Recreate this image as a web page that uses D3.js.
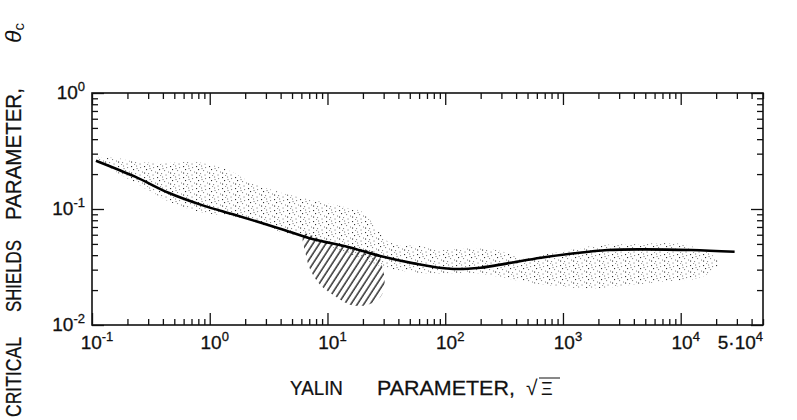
<!DOCTYPE html>
<html>
<head>
<meta charset="utf-8">
<script src="https://cdn.jsdelivr.net/npm/d3@7"></script>
<style>
  html, body { margin: 0; padding: 0; background: #fff; }
  svg { display: block; }
  text { font-family: "Liberation Sans", Arial, sans-serif; fill: #111; }
</style>
</head>
<body>
<svg id="chart" width="797" height="420"></svg>
<script>
// Shields curve, critical Shields parameter vs Yalin parameter
const curveX = [0.108, 0.232, 0.446, 0.86, 1.65, 3.9, 7.6, 14.7, 28, 54, 110, 200, 338, 650, 1250, 2400, 4600, 12300, 28700];
const curveY = [0.261, 0.19, 0.138, 0.108, 0.0888, 0.068, 0.0548, 0.0473, 0.0393, 0.034, 0.0305, 0.0312, 0.034, 0.038, 0.0415, 0.0443, 0.0449, 0.0443, 0.0428];

// stippled data band (outline, clockwise)
const bandX = [0.1125, 0.157, 0.246, 0.443, 0.754, 1.355, 2.30, 3.83, 6.76, 11.25, 14.8, 19.9, 26.7, 34.4, 61.8, 91.6, 165, 297, 440, 716, 1290, 2100, 4610, 10100, 14900, 20000, 20900,
               14900, 6830, 3120, 2100, 1060, 534, 297, 165, 91.6, 50.8, 28.2, 15.7, 8.71, 3.98, 1.82, 0.830, 0.461, 0.344, 0.211, 0.142];
const bandY = [0.275, 0.275, 0.254, 0.249, 0.254, 0.221, 0.168, 0.140, 0.122, 0.110, 0.102, 0.094, 0.066, 0.051, 0.048, 0.0443, 0.0461, 0.0435, 0.0378, 0.0409, 0.0452, 0.0489, 0.0499, 0.0499, 0.0443, 0.0378, 0.0329,
               0.0259, 0.0235, 0.0217, 0.0208, 0.0213, 0.0230, 0.0259, 0.0281, 0.0275, 0.0286, 0.0323, 0.0409, 0.0509, 0.0633, 0.0836, 0.0942, 0.115, 0.135, 0.178, 0.226];

// hatched region below the curve
const hatchX = [6.25, 6.5, 7.16, 8.7, 11.2, 15.7, 21.9, 28.2, 30.6, 28.8, 26.7, 15.7, 9.6];
const hatchY = [0.0608, 0.0418, 0.0298, 0.0221, 0.0181, 0.0149, 0.0149, 0.0174, 0.0235, 0.0336, 0.041, 0.047, 0.053];

const xTickValues = [0.1, 1, 10, 100, 1000, 10000, 50000];
const xTickLabels = [['10', '-1'], ['10', '0'], ['10', '1'], ['10', '2'], ['10', '3'], ['10', '4'], ['5·10', '4']];
const yTickValues = [1, 0.1, 0.01];
const yTickLabels = [['10', '0'], ['10', '-1'], ['10', '-2']];

const svg = d3.select('#chart');
const M = { left: 92, right: 763, top: 93, bottom: 325 };

const x = d3.scaleLog().domain([0.1, 5e4]).range([M.left, M.right]);
const y = d3.scaleLog().domain([0.01, 1]).range([M.bottom, M.top]);

const isMajor = v => Math.abs(Math.log10(v) - Math.round(Math.log10(v))) < 1e-6;

// patterns
const defs = svg.append('defs');
const dots = defs.append('pattern')
  .attr('id', 'stipple').attr('patternUnits', 'userSpaceOnUse')
  .attr('width', 13).attr('height', 11);
[[1, 1], [6, 0.5], [10, 2], [3, 4], [8, 5], [12, 6.5], [1, 7.5], [5, 8], [9.5, 9.5], [4, 10.5], [6.5, 3]].forEach(([px, py], i) => {
  dots.append('rect').attr('x', px).attr('y', py).attr('width', 1.1).attr('height', 1.1)
    .attr('fill', i % 3 === 0 ? '#333' : '#8a8a8a');
});
const hatch = defs.append('pattern')
  .attr('id', 'hatch').attr('patternUnits', 'userSpaceOnUse')
  .attr('width', 5.4).attr('height', 10)
  .attr('patternTransform', 'rotate(33)');
hatch.append('line').attr('x1', 1).attr('y1', 0).attr('x2', 1).attr('y2', 10)
  .attr('stroke', '#111').attr('stroke-width', 1.3);

const blob = d3.line()
  .x(d => x(d[0])).y(d => y(d[1]))
  .curve(d3.curveCatmullRomClosed.alpha(0.5));

svg.append('path')
  .attr('d', blob(bandX.map((v, i) => [v, bandY[i]])))
  .attr('fill', 'url(#stipple)');

svg.append('path')
  .attr('d', blob(hatchX.map((v, i) => [v, hatchY[i]])))
  .attr('fill', 'url(#hatch)');

// Shields curve
const line = d3.line()
  .x(d => x(d[0])).y(d => y(d[1]))
  .curve(d3.curveCatmullRom.alpha(0.5));
svg.append('path')
  .attr('d', line(curveX.map((v, i) => [v, curveY[i]])))
  .attr('fill', 'none').attr('stroke', '#000').attr('stroke-width', 2.6)
  .attr('stroke-linejoin', 'round');

// axes: inward ticks on all four sides
const xt = x.ticks().filter(v => v <= 5e4);
const yt = y.ticks();
const tickLen = v => isMajor(v) ? 12 : 6;

function styleAxis(g) {
  g.select('.domain').remove();
  g.selectAll('.tick text').remove();
  g.selectAll('.tick line').attr('stroke', '#111').attr('stroke-width', 1.3);
}

svg.append('g').attr('transform', `translate(0,${M.bottom})`)
  .call(d3.axisBottom(x).tickValues(xt).tickSize(0)).call(styleAxis)
  .selectAll('.tick line').attr('y2', d => -tickLen(d));
svg.append('g').attr('transform', `translate(0,${M.top})`)
  .call(d3.axisTop(x).tickValues(xt).tickSize(0)).call(styleAxis)
  .selectAll('.tick line').attr('y2', d => tickLen(d));
svg.append('g').attr('transform', `translate(${M.left},0)`)
  .call(d3.axisLeft(y).tickValues(yt).tickSize(0)).call(styleAxis)
  .selectAll('.tick line').attr('x2', d => tickLen(d));
svg.append('g').attr('transform', `translate(${M.right},0)`)
  .call(d3.axisRight(y).tickValues(yt).tickSize(0)).call(styleAxis)
  .selectAll('.tick line').attr('x2', d => -tickLen(d));

svg.append('rect')
  .attr('x', M.left).attr('y', M.top)
  .attr('width', M.right - M.left).attr('height', M.bottom - M.top)
  .attr('fill', 'none').attr('stroke', '#111').attr('stroke-width', 1.6);

// tick labels
function powLabel(g, lab, px, py, anchor) {
  const t = g.append('text').attr('x', px).attr('y', py)
    .attr('text-anchor', anchor).attr('font-size', 19)
    .attr('stroke', '#111').attr('stroke-width', 0.3);
  t.append('tspan').text(lab[0]);
  t.append('tspan').attr('dy', -8).attr('font-size', 13).text(lab[1]);
}
const labels = svg.append('g');
xTickValues.forEach((v, i) => {
  const last = i === xTickValues.length - 1;
  powLabel(labels, xTickLabels[i], last ? x(v) : x(v) + 5, 349, last ? 'end' : 'middle');
});
yTickValues.forEach((v, i) => {
  powLabel(labels, yTickLabels[i], 85, y(v) + 6, 'end');
});

// axis titles, one text per word, squeezed horizontally to the measured width
function word(g, str, px, len, size) {
  const w = g.append('g').attr('transform', `translate(${px},0)`);
  const t = w.append('text').attr('x', 0).attr('y', 0).attr('font-size', size)
    .attr('stroke', '#111').attr('stroke-width', 0.25).text(str);
  const nat = t.node().getComputedTextLength();
  t.attr('transform', `scale(${len / nat},1)`);
  return t;
}
const xTitle = svg.append('g').attr('transform', 'translate(0,395)');
word(xTitle, 'YALIN', 290, 53, 21);
word(xTitle, 'PARAMETER,', 377, 138, 21);
xTitle.append('text').attr('x', 526).attr('font-size', 21).text('√');
xTitle.append('text').attr('x', 541).attr('font-size', 18).text('Ξ');
xTitle.append('line').attr('x1', 539).attr('x2', 560).attr('y1', -17).attr('y2', -17)
  .attr('stroke', '#111').attr('stroke-width', 1);

const yTitle = svg.append('g').attr('transform', 'translate(21,0) rotate(-90)');
word(yTitle, 'CRITICAL', -417, 80, 22);
word(yTitle, 'SHIELDS', -312, 72, 22);
word(yTitle, 'PARAMETER,', -220, 132, 22);
const th = yTitle.append('text').attr('x', -43).attr('y', 0).attr('font-size', 23);
th.append('tspan').attr('font-style', 'italic').text('θ');
th.append('tspan').attr('dy', 3).attr('font-size', 15).text('c');
</script>
</body>
</html>
